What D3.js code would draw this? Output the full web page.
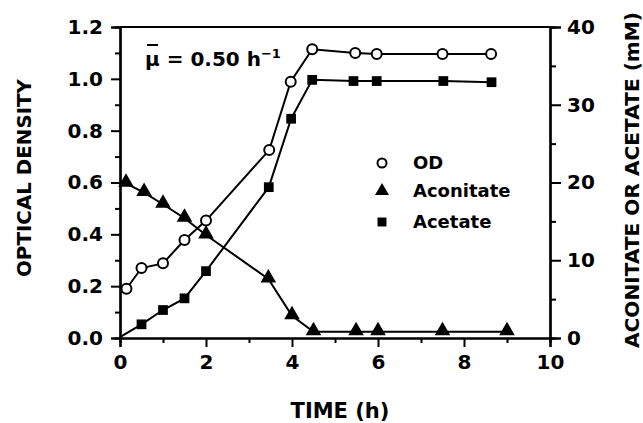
<!DOCTYPE html>
<html><head><meta charset="utf-8">
<script src="https://cdn.jsdelivr.net/npm/d3@7"></script>
<style>body{margin:0;background:#fff}text{font-family:"DejaVu Sans",sans-serif;font-weight:bold;fill:#000}</style>
</head><body><svg id="c" width="643" height="423"></svg>
<script>
const odTime = [0.15,0.5,1.0,1.5,2.0,3.47,3.97,4.47,5.47,5.97,7.5,8.63];
const odValues = [0.19,0.27,0.288,0.378,0.453,0.725,0.989,1.114,1.10,1.096,1.096,1.096];
const aconTime = [0.14,0.56,1.0,1.5,2.0,3.45,4.0,4.5,5.49,6.0,7.5,9.0];
const aconValues = [19.9,18.7,17.2,15.4,13.25,7.6,2.87,0.8,0.8,0.8,0.8,0.8];
const acetTime = [0.0,0.5,1.0,1.5,2.0,3.46,3.98,4.47,5.43,5.97,7.52,8.64];
const acetValues = [0.1,1.76,3.6,5.1,8.6,19.4,28.2,33.2,33.05,33.05,33.05,32.9];
const xTicks = [0,2,4,6,8,10];
const yLeftTicks = [0,0.2,0.4,0.6,0.8,1.0,1.2];
const yRightTicks = [0,10,20,30,40];
const legendLabels = ["OD","Aconitate","Acetate"];

const svg = d3.select("#c");
const L=120,R=550,T=27,B=338;
const x = d3.scaleLinear().domain([0,10]).range([L,R]);
const yL = d3.scaleLinear().domain([0,1.2]).range([B,T]);
const yR = d3.scaleLinear().domain([0,40]).range([B,T]);

svg.append("line").attr("x1",L).attr("x2",R).attr("y1",T).attr("y2",T).attr("stroke","#000").attr("stroke-width",2);

function styleAxis(g){g.selectAll("path,line").attr("stroke","#000").attr("stroke-width",2);g.selectAll("text").style("font-size","20px").style("font-family","DejaVu Sans").style("font-weight","bold");}

const gx = svg.append("g").attr("transform",`translate(0,${B})`);
gx.call(d3.axisBottom(x).tickValues(d3.range(1,10,2)).tickSize(5).tickFormat("")).call(styleAxis);
gx.append("g").call(d3.axisBottom(x).tickValues(xTicks).tickSize(9).tickPadding(8).tickFormat(d3.format("d"))).call(styleAxis);
const gl = svg.append("g").attr("transform",`translate(${L},0)`);
gl.call(d3.axisLeft(yL).tickValues(d3.range(0.1,1.2,0.2)).tickSize(5).tickFormat("")).call(styleAxis);
gl.append("g").call(d3.axisLeft(yL).tickValues(yLeftTicks).tickSize(9).tickPadding(8).tickFormat(d3.format(".1f"))).call(styleAxis);
const gr = svg.append("g").attr("transform",`translate(${R},0)`);
gr.call(d3.axisRight(yR).tickValues([5,15,25,35]).tickSize(6).tickFormat("")).call(styleAxis);
gr.append("g").call(d3.axisRight(yR).tickValues(yRightTicks).tickSize(11).tickPadding(6).tickFormat(d3.format("d"))).call(styleAxis);
svg.selectAll(".domain").attr("stroke-width",2.2);

svg.append("text").attr("transform","translate(31,178) rotate(-90)").attr("text-anchor","middle").style("font-size","19px").attr("textLength",198).attr("lengthAdjust","spacingAndGlyphs").text("OPTICAL DENSITY");
svg.append("text").attr("transform","translate(639,180) rotate(-90)").attr("text-anchor","middle").style("font-size","19px").attr("textLength",336).attr("lengthAdjust","spacingAndGlyphs").text("ACONITATE OR ACETATE (mM)");
svg.append("text").attr("x",340).attr("y",418).attr("text-anchor","middle").style("font-size","21px").text("TIME (h)");

const mu = svg.append("text").attr("x",145).attr("y",66).style("font-size","20px");
mu.append("tspan").text("\u03BC = 0.50 h");
mu.append("tspan").attr("dy",-8).style("font-size","13px").text("\u22121");
svg.append("line").attr("x1",147).attr("x2",158).attr("y1",45).attr("y2",45).attr("stroke","#000").attr("stroke-width",2);

const lineGen = (ys,yd)=>d3.line().x((d,i)=>x(d)).y((d,i)=>yd(ys[i]));
svg.append("path").attr("d",lineGen(acetValues,yR)(acetTime)).attr("fill","none").attr("stroke","#000").attr("stroke-width",2);
svg.append("path").attr("d",lineGen(aconValues,yR)(aconTime)).attr("fill","none").attr("stroke","#000").attr("stroke-width",2);
svg.append("path").attr("d",lineGen(odValues,yL)(odTime)).attr("fill","none").attr("stroke","#000").attr("stroke-width",2);

const sq = d3.symbol().type(d3.symbolSquare).size(95);
const tri = d3.symbol().type(d3.symbolTriangle).size(105);
svg.selectAll(".sq").data(acetTime.slice(1)).join("path").attr("d",sq).attr("transform",(d,i)=>`translate(${x(d)},${yR(acetValues[i+1])})`).attr("fill","#000");
svg.selectAll(".tri").data(aconTime).join("path").attr("d",tri).attr("transform",(d,i)=>`translate(${x(d)},${yR(aconValues[i])-1})`).attr("fill","#000");
svg.selectAll(".od").data(odTime).join("circle").attr("cx",d=>x(d)).attr("cy",(d,i)=>yL(odValues[i])).attr("r",5).attr("fill","#fff").attr("stroke","#000").attr("stroke-width",2);

const lg = svg.append("g");
const ly=[163,191,222];
lg.append("circle").attr("cx",382).attr("cy",ly[0]).attr("r",4.5).attr("fill","#fff").attr("stroke","#000").attr("stroke-width",2);
lg.append("path").attr("d",d3.symbol().type(d3.symbolTriangle).size(85)).attr("transform",`translate(382,${ly[1]})`).attr("fill","#000");
lg.append("path").attr("d",d3.symbol().type(d3.symbolSquare).size(80)).attr("transform",`translate(382,${ly[2]})`).attr("fill","#000");
legendLabels.forEach((t,i)=>lg.append("text").attr("x",413).attr("y",ly[i]+6).style("font-size","18px").text(t));
</script></body></html>
